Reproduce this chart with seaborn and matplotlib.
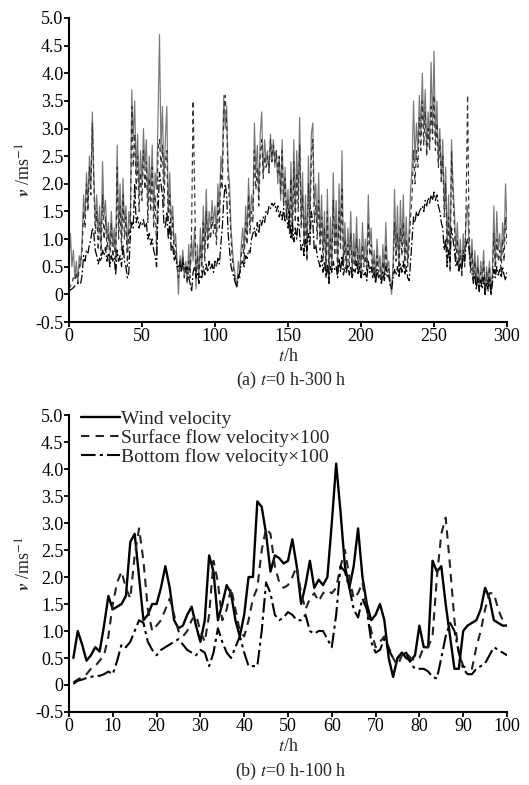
import seaborn as sns
import matplotlib.pyplot as plt
import pandas as pd
import numpy as np

# hourly values, t = 0..300 h
wind_a = [
    0.6, 1.1, 0.5, 0.8, 0.3, 0.6, 0.2, 0.7, 0.5, 1.0,
    1.8, 1.4, 2.2, 1.6, 2.5, 2.0, 3.3, 2.2, 1.3, 1.8,
    1.1, 1.6, 0.9, 2.4, 1.4, 1.7, 1.0, 1.3, 0.8, 1.5,
    0.9, 1.2, 0.7, 2.7, 1.2, 2.0, 1.0, 2.1, 1.3, 1.6,
    0.8, 1.5, 1.2, 3.7, 2.8, 3.5, 2.2, 2.9, 1.8, 2.6,
    2.0, 3.0, 2.3, 2.8, 1.6, 2.5, 1.8, 2.7, 1.5, 2.2,
    1.9, 3.2, 4.7, 2.6, 3.4, 2.0, 2.8, 3.4, 1.5, 2.2,
    1.3, 1.6, 0.9, 1.1, 0.6, 0.0, 0.7, 0.5, 0.8, 0.3,
    0.6, 0.2, 0.9, 0.4, 1.0, 0.6, 1.2, 0.1, 0.9, 0.3,
    1.2, 0.6, 1.6, 0.8, 1.9, 1.0, 1.5, 1.2, 1.7, 1.3,
    1.6, 1.1, 2.0, 1.5, 2.5, 2.2, 3.6, 3.0, 3.4, 2.3,
    2.0, 1.2, 0.8, 0.5, 0.3, 0.15, 0.6, 0.4, 0.9, 1.2,
    0.8, 1.6, 1.1, 2.1, 1.3, 1.8, 1.5, 3.1, 2.2, 2.7,
    1.8, 2.9, 3.3, 2.2, 2.8, 2.4, 2.6, 2.2, 2.9, 2.4,
    2.8, 2.3, 2.6, 2.0, 2.5, 1.7, 2.8, 1.6, 2.3, 1.4,
    1.9, 1.2, 2.4, 1.1, 2.8, 1.5, 2.6, 1.8, 3.2, 1.4,
    2.2, 0.9, 1.8, 0.7, 2.5, 1.3, 2.9, 3.1, 1.6, 2.0,
    1.2, 2.2, 1.0, 1.8, 0.8, 1.5, 0.5, 1.9, 0.3, 1.4,
    0.6, 2.2, 0.9, 1.7, 0.5, 2.0, 1.0, 2.6, 0.6, 1.3,
    0.5, 1.2, 0.7, 1.5, 0.4, 1.1, 0.6, 1.4, 0.5, 1.0,
    0.4, 1.3, 0.6, 1.0, 0.5, 1.8, 0.9, 1.2, 0.4, 0.8,
    0.3, 1.0, 0.5, 0.7, 0.2, 0.9, 0.4, 1.3, 0.5, 0.6,
    0.2, 0.0, 0.6, 1.9, 0.8, 1.6, 0.5, 1.7, 0.9, 1.8,
    0.7, 1.4, 0.6, 1.2, 1.9, 2.3, 3.5, 2.4, 3.1, 2.6,
    3.6, 2.9, 4.0, 3.0, 3.7, 2.6, 3.3, 2.7, 4.2, 3.0,
    4.4, 2.8, 3.5, 2.4, 3.0, 2.1, 2.8, 1.6, 2.3, 0.9,
    1.8, 0.5, 2.8, 2.0, 1.5, 0.8, 1.3, 0.5, 1.0, 0.4,
    1.1, 0.6, 1.4, 1.6, 0.9, 0.5, 1.0, 0.3, 0.8, 0.2,
    0.7, 0.1, 0.6, 0.3, 0.8, 0.0, 0.5, 0.2, 0.6, 0.0,
    0.4, 1.6, 0.5, 1.5, 0.8, 1.1, 0.6, 1.3, 0.9, 2.0,
    1.2,
]
surface_a = [
    0.1, 0.15, 0.2, 0.3, 0.25, 0.4, 0.2, 0.5, 0.6, 0.8,
    1.5, 1.2, 2.0, 1.5, 2.3, 1.8, 3.1, 2.0, 1.1, 1.5,
    0.8, 1.3, 0.7, 1.8, 1.0, 1.4, 0.8, 1.1, 0.6, 1.3,
    0.6, 1.0, 0.5, 2.3, 1.0, 1.6, 0.8, 1.8, 1.0, 1.4,
    0.5, 1.2, 1.0, 3.4, 2.3, 2.9, 1.9, 2.5, 1.5, 2.2,
    1.7, 2.6, 1.9, 2.4, 1.3, 2.1, 1.5, 2.3, 1.2, 1.8,
    0.7, 2.6, 2.8, 2.3, 2.7, 1.6, 2.4, 2.6, 1.3, 1.8,
    1.0, 1.4, 0.7, 0.9, 0.5, 0.3, 0.6, 0.4, 0.7, 0.3,
    0.5, 0.2, 0.6, 0.3, 1.2, 3.5, 2.0, 0.3, 0.7, 0.2,
    0.9, 0.4, 1.3, 0.6, 1.5, 0.8, 1.2, 1.0, 1.4, 1.1,
    1.3, 0.9, 1.7, 1.2, 2.2, 1.9, 3.3, 3.6, 3.1, 2.1,
    1.6, 1.0, 0.6, 0.4, 0.25, 0.1, 0.4, 0.3, 0.7, 0.9,
    0.6, 1.3, 0.9, 1.8, 1.1, 1.5, 1.3, 2.6, 1.9, 2.3,
    1.6, 2.5, 2.8, 2.1, 2.5, 2.3, 2.5, 2.2, 2.8, 2.4,
    2.7, 2.4, 2.6, 2.2, 2.5, 1.8, 2.6, 1.6, 2.1, 1.4,
    1.7, 1.1, 2.1, 1.0, 2.4, 1.3, 2.2, 1.5, 2.7, 1.2,
    1.8, 0.8, 1.4, 0.6, 2.0, 1.1, 2.5, 2.8, 1.3, 1.6,
    1.0, 1.7, 0.8, 1.4, 0.6, 1.2, 0.4, 1.5, 0.2, 1.0,
    0.4, 1.7, 0.7, 1.3, 0.4, 1.5, 0.8, 1.9, 0.5, 1.0,
    0.4, 0.9, 0.5, 1.1, 0.3, 0.8, 0.5, 1.0, 0.4, 0.7,
    0.3, 0.9, 0.5, 0.7, 0.4, 1.3, 0.7, 0.9, 0.3, 0.6,
    0.2, 0.7, 0.4, 0.5, 0.2, 0.6, 0.3, 0.9, 0.4, 0.5,
    0.2, 0.1, 0.4, 1.3, 0.6, 1.1, 0.4, 1.2, 0.7, 1.3,
    0.5, 1.0, 0.5, 0.9, 1.4, 1.8, 2.6, 2.0, 2.6, 2.3,
    3.2, 2.6, 3.5, 2.7, 3.3, 2.5, 3.0, 2.6, 3.4, 2.8,
    3.6, 2.6, 3.1, 2.3, 2.8, 2.0, 2.5, 1.4, 2.0, 0.6,
    1.4, 0.4, 2.6, 1.8, 1.2, 0.6, 1.0, 0.4, 0.8, 0.3,
    0.8, 0.5, 1.6, 3.6, 1.2, 0.4, 0.8, 0.2, 0.6, 0.1,
    0.5, 0.1, 0.4, 0.2, 0.6, 0.0, 0.4, 0.1, 0.5, 0.0,
    0.3, 1.1, 0.4, 1.0, 0.6, 0.8, 0.4, 1.0, 0.6, 1.4,
    0.9,
]
bottom_a = [
    0.05, 0.08, 0.1, 0.12, 0.15, 0.18, 0.2, 0.22, 0.2, 0.35,
    0.7, 0.6, 0.8, 0.75, 0.9, 1.0, 1.2, 1.1, 0.8, 0.7,
    0.55, 0.65, 0.6, 0.8, 0.7, 0.85, 0.6, 0.75, 0.5, 0.7,
    0.6, 0.65, 0.35, 0.8, 0.6, 0.7, 0.5, 0.9, 0.6, 0.5,
    0.3, 0.4, 1.1, 1.3, 1.2, 2.0, 1.3, 1.4, 1.2, 1.3,
    1.25, 1.35, 1.2, 1.3, 1.0, 1.1, 0.9, 1.0, 0.8, 0.7,
    0.5, 1.5, 2.2, 2.0, 1.8, 1.3, 1.2, 1.5, 1.0, 1.3,
    0.8, 0.9, 0.6, 0.7, 0.5, 0.5, 0.55, 0.4, 0.6, 0.5,
    0.45, 0.5, 0.3, 0.2, 0.05, 0.4, 0.5, 0.3, 0.4, 0.2,
    0.35, 0.3, 0.5, 0.35, 0.55, 0.4, 0.6, 0.45, 0.55, 0.4,
    0.6, 0.5, 0.65, 0.55, 0.9, 1.2, 1.7, 2.0, 1.8, 1.1,
    0.8, 0.5, 0.4, 0.3, 0.2, 0.15, 0.3, 0.4, 0.55, 0.6,
    0.5, 0.7, 0.65, 0.8, 0.75, 1.0, 1.1, 1.2, 1.05, 1.3,
    1.1, 1.35, 1.25, 1.4, 1.3, 1.5, 1.45, 1.6, 1.55, 1.65,
    1.6, 1.65, 1.5, 1.6, 1.4, 1.5, 1.35, 1.55, 1.3, 1.45,
    1.2, 1.5, 1.0, 1.3, 0.95, 1.2, 1.0, 1.4, 1.1, 0.8,
    0.9, 0.7, 1.0, 0.8, 1.1, 0.9, 1.5, 1.3, 0.8, 0.9,
    0.7, 0.6, 0.5, 0.7, 0.4, 0.6, 0.3, 0.55, 0.2, 0.5,
    0.4, 0.6, 0.45, 0.5, 0.3, 0.65, 0.4, 0.7, 0.35, 0.5,
    0.4, 0.55, 0.35, 0.5, 0.3, 0.45, 0.4, 0.6, 0.35, 0.5,
    0.3, 0.45, 0.35, 0.4, 0.25, 0.6, 0.4, 0.5, 0.3, 0.4,
    0.2, 0.45, 0.3, 0.35, 0.2, 0.4, 0.25, 0.5, 0.3, 0.35,
    0.15, 0.1, 0.3, 0.45, 0.35, 0.5, 0.3, 0.55, 0.4, 0.6,
    0.35, 0.5, 0.3, 0.25, 0.6, 1.0, 1.4, 1.3, 1.5, 1.4,
    1.5, 1.55, 1.6, 1.5, 1.7, 1.6, 1.75, 1.65, 1.8, 1.7,
    1.85, 1.7, 1.8, 1.6, 1.5, 1.3, 1.2, 0.8, 1.0, 0.5,
    0.8, 0.6, 1.2, 1.0, 0.8, 0.5, 0.6, 0.4, 0.55, 0.45,
    0.7, 0.6, 0.9, 1.0, 0.8, 0.5, 0.4, 0.2, 0.35, 0.1,
    0.3, 0.05, 0.25, 0.1, 0.3, 0.0, 0.2, 0.05, 0.3, 0.0,
    0.2, 0.45, 0.3, 0.5, 0.35, 0.45, 0.3, 0.5, 0.35, 0.25,
    0.4,
]

# hourly values, t = 1..100 h
wind_b = [
    0.5, 1.0, 0.75, 0.45, 0.55, 0.7, 0.62, 1.1, 1.65, 1.4,
    1.45, 1.5, 1.65, 2.65, 2.8, 2.0, 1.2, 1.3, 1.5, 1.5,
    1.8, 2.2, 1.8, 1.2, 1.05, 1.1, 1.3, 1.45, 1.1, 0.8,
    1.2, 2.4, 2.1, 1.2, 1.5, 1.85, 1.7, 1.2, 0.9, 1.3,
    2.0, 2.0, 3.4, 3.3, 2.8, 2.1, 2.4, 2.35, 2.25, 2.3,
    2.7, 2.2, 1.5, 1.85, 2.3, 1.8, 1.95, 1.85, 2.0, 3.0,
    4.1, 3.2, 2.2, 1.8, 2.2, 2.9, 2.0, 1.5, 1.2, 1.3,
    1.5, 1.2, 0.5, 0.15, 0.5, 0.6, 0.5, 0.45, 0.55, 1.1,
    0.7, 0.7, 2.3, 2.1, 2.2, 1.5, 0.9, 0.3, 0.3, 1.0,
    1.1, 1.15, 1.2, 1.4, 1.8, 1.6, 1.2, 1.15, 1.1, 1.1,
]
surface_b = [
    0.05, 0.1, 0.15, 0.2, 0.3, 0.35, 0.45, 0.55, 0.9, 1.5,
    1.9, 2.1, 1.8, 1.6, 2.4, 2.9, 2.3, 1.4, 1.0, 1.1,
    1.2, 1.4, 1.6, 1.3, 1.0, 0.9, 1.0, 1.2, 1.3, 1.0,
    0.8, 1.3, 2.3, 1.9, 1.2, 1.4, 1.8, 1.4, 1.0, 0.9,
    1.2, 1.6, 1.8, 2.5, 2.9, 2.8, 2.2, 1.9, 1.8, 1.85,
    2.0, 2.2, 1.7, 1.4, 1.6, 1.7, 1.55, 1.7, 1.75, 1.7,
    1.8, 2.2, 2.5, 2.0, 1.6, 1.7, 1.9, 1.4, 1.0, 0.7,
    0.8, 0.9, 0.7, 0.5, 0.35, 0.55, 0.6, 0.5, 0.45, 0.5,
    0.7, 0.7, 0.9, 2.0, 2.8, 3.1, 2.2, 1.2, 0.6, 0.35,
    0.3, 0.3, 0.7, 1.0, 1.4, 1.7, 1.7, 1.4, 1.2, 1.1,
]
bottom_b = [
    0.02, 0.08, 0.1, 0.13, 0.15, 0.17, 0.17, 0.2, 0.25, 0.2,
    0.45, 0.75, 0.7, 0.8, 1.0, 1.2, 1.15, 0.8, 0.65, 0.55,
    0.65, 0.7, 0.75, 0.8, 0.85, 0.75, 0.65, 0.6, 0.55, 0.65,
    0.6, 0.35, 0.6, 1.05, 0.8, 0.6, 0.5, 0.7, 0.9, 0.6,
    0.35, 0.35, 0.35, 1.0, 1.9, 1.7, 1.3, 1.2, 1.25, 1.35,
    1.3, 1.2, 1.2, 1.3, 1.0, 0.95, 1.0, 1.0, 0.85, 0.7,
    1.3, 2.2, 2.1, 1.8, 1.4, 1.25, 1.6, 1.4, 0.8, 0.6,
    0.65, 0.85, 0.65, 0.5, 0.5, 0.55, 0.6, 0.4, 0.3, 0.3,
    0.3, 0.25, 0.15, 0.12, 0.5, 0.9, 1.15, 1.0, 0.6, 0.3,
    0.2, 0.2, 0.3, 0.35, 0.4, 0.55, 0.7, 0.65, 0.6, 0.55,
]

df_a = pd.DataFrame({"t": np.arange(len(wind_a)), "wind": wind_a,
                     "surface": surface_a, "bottom": bottom_a})
df_b = pd.DataFrame({"t": np.arange(1, len(wind_b) + 1), "wind": wind_b,
                     "surface": surface_b, "bottom": bottom_b})

sns.set_style("ticks")
plt.rcParams["font.family"] = ["Liberation Serif", "DejaVu Serif"]
plt.rcParams["mathtext.fontset"] = "stix"
plt.rcParams["xtick.labelsize"] = 13
plt.rcParams["ytick.labelsize"] = 13

fig = plt.figure(figsize=(5.29, 7.85), dpi=100)
ax1 = fig.add_axes([0.1304, 0.5898, 0.828, 0.3873])
ax2 = fig.add_axes([0.1304, 0.0930, 0.828, 0.3783])

dash = (0, (4, 3))
dashdot = (0, (7, 2, 1.5, 2))

# panel (a)
sns.lineplot(data=df_a, x="t", y="wind", ax=ax1, color="#777777", lw=0.85)
sns.lineplot(data=df_a, x="t", y="surface", ax=ax1, color="#333333", lw=0.85, linestyle=dash)
sns.lineplot(data=df_a, x="t", y="bottom", ax=ax1, color="black", lw=0.9, linestyle=dashdot)

# panel (b)
sns.lineplot(data=df_b, x="t", y="wind", ax=ax2, color="black", lw=1.7, label="Wind velocity")
sns.lineplot(data=df_b, x="t", y="surface", ax=ax2, color="#222222", lw=1.5, linestyle=dash,
             label="Surface flow velocity×100")
sns.lineplot(data=df_b, x="t", y="bottom", ax=ax2, color="black", lw=1.5, linestyle=dashdot,
             label="Bottom flow velocity×100")

for ax, xmax, step, ylab in [(ax1, 300, 50, -0.087), (ax2, 100, 10, -0.089)]:
    ax.set_xlim(0, xmax)
    ax.set_ylim(-0.5, 5.0)
    ax.set_xticks(np.arange(0, xmax + 1, step))
    ax.set_yticks(np.arange(-0.5, 5.01, 0.5))
    ax.set_yticklabels(["-0.5", "0"] + [f"{v:.1f}" for v in np.arange(0.5, 5.01, 0.5)])
    for s in ["top", "right"]:
        ax.spines[s].set_visible(False)
    for s in ["left", "bottom"]:
        ax.spines[s].set_linewidth(1.5)
        ax.spines[s].set_color("black")
    ax.tick_params(direction="out", length=3.5, width=1.3, colors="black", pad=0.5)
    ax.set_xlabel("$t$/h", fontsize=13)
    ax.xaxis.set_label_coords(0.5, ylab)
    ax.set_ylabel(r"$\mathbfit{v}$ /ms$^{-1}$", fontsize=13, labelpad=0)

leg = ax2.legend(loc="upper left", bbox_to_anchor=(0.0, 1.055), frameon=False, fontsize=14,
                 handlelength=2.0, handletextpad=0.1, labelspacing=0.05, borderaxespad=0.2)

fig.text(0.55, 0.515, "(a) $t$=0 h-300 h", ha="center", va="center", fontsize=13)
fig.text(0.55, 0.017, "(b) $t$=0 h-100 h", ha="center", va="center", fontsize=13)

fig.savefig("out.png", dpi=100)
